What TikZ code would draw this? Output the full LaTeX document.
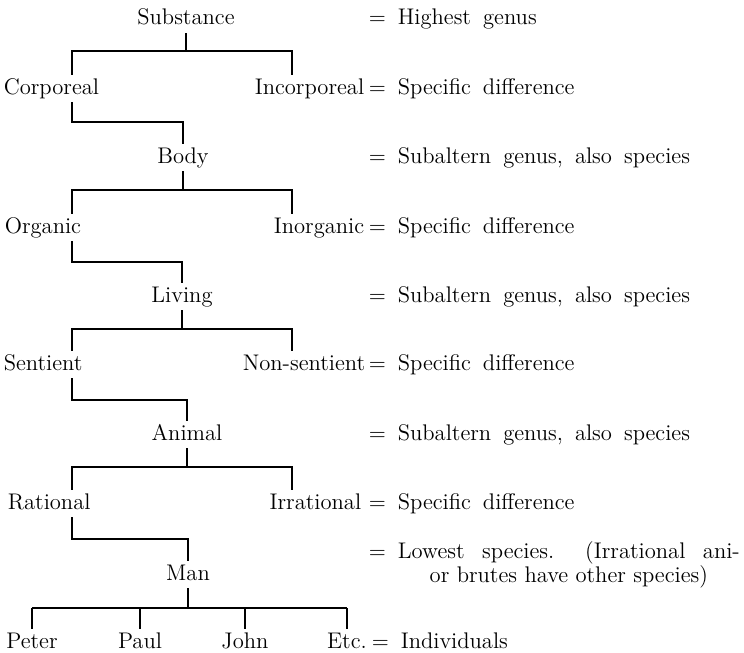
\documentclass[tikz,border=0pt]{standalone}
\usetikzlibrary{positioning}
\begin{document}
\begin{tikzpicture}[x=0.5pt,y=-0.5pt,line width=0.8pt,
  lbl/.style={inner xsep=0pt,inner ysep=1.5pt,text height=7.7pt,text depth=2.2pt,
    font=\fontsize{11.3}{13}\selectfont},
  rlbl/.style={anchor=base west,inner sep=0pt,
    font={\fontsize{11.3}{13}\selectfont\spaceskip=6pt plus 1pt\relax}}]
  \useasboundingbox (0,0) rectangle (744,653);
  \pgfmathsetmacro {\lx}{72}   %left drop column
  \pgfmathsetmacro {\rx}{292}  %right drop column
  \pgfmathsetmacro {\ex}{368}  %column of the equals signs

  %Tree labels
  \node[lbl,anchor=base] (subst) at (186,25) {Substance};
  \node[lbl,anchor=base west] (corp) at (3,94) {Corporeal};
  \node[lbl,anchor=base east] (incorp) at (365,94) {Incorporeal};
  \node[lbl,anchor=base] (body) at (183,163) {Body};
  \node[lbl,anchor=base west] (organic) at (4,233) {Organic};
  \node[lbl,anchor=base east] (inorganic) at (365,233) {Inorganic};
  \node[lbl,anchor=base] (living) at (182,302) {Living};
  \node[lbl,anchor=base west] (sentient) at (3,370) {Sentient};
  \node[lbl,anchor=base east] (nonsentient) at (366,370) {Non-sentient};
  \node[lbl,anchor=base] (animal) at (187,440) {Animal};
  \node[lbl,anchor=base west] (rational) at (7,509) {Rational};
  \node[lbl,anchor=base east] (irrational) at (362,509) {Irrational};
  \node[lbl,anchor=base] (man) at (188,580) {Man};
  \node[lbl,anchor=base] (peter) at (32,648) {Peter};
  \node[lbl,anchor=base] (paul) at (140,648) {Paul};
  \node[lbl,anchor=base] (john) at (245,648) {John};
  \node[lbl,anchor=base] (etc) at (347,648) {Etc.};

  %Right hand column
  \node[rlbl] (highest) at (\ex,25) {$=$ Highest genus};
  \node[rlbl] (diff1) at (\ex,94) {$=$ Specific difference};
  \node[rlbl] (sub1) at (\ex,163) {$=$ Subaltern genus, also species};
  \node[rlbl] (diff2) at (\ex,233) {$=$ Specific difference};
  \node[rlbl] (sub2) at (\ex,302) {$=$ Subaltern genus, also species};
  \node[rlbl] (diff3) at (\ex,370) {$=$ Specific difference};
  \node[rlbl] (sub3) at (\ex,440) {$=$ Subaltern genus, also species};
  \node[rlbl] (diff4) at (\ex,509) {$=$ Specific difference};
  \node[rlbl] (lowest) at (\ex,558) {$=$ \parbox[t]{171pt}{\baselineskip=10.5pt\centering
    \makebox[171pt][s]{Lowest species. (Irrational ani-}\\
    \spaceskip=0pt\relax or brutes have other species)}};
  \node[rlbl] (indiv) at (\ex+3,648) {$=$ Individuals};

  %Bar coordinates
  \coordinate (b1l) at (\lx,51);  \coordinate (b1r) at (\rx,51);
  \coordinate (b2) at (\lx,122);
  \coordinate (b3l) at (\lx,190); \coordinate (b3r) at (\rx,190);
  \coordinate (b4) at (\lx,262);
  \coordinate (b5l) at (\lx,329); \coordinate (b5r) at (\rx,329);
  \coordinate (b6) at (\lx,400);
  \coordinate (b7l) at (\lx,467); \coordinate (b7r) at (\rx,467);
  \coordinate (b8) at (\lx,539);
  \coordinate (mbar) at (0,608);

  %Substance into Corporeal and Incorporeal
  \draw (subst.south) -- (subst.south |- b1l);
  \draw (corp.north -| b1l) -- (b1l) -- (b1r) -- (incorp.north -| b1r);
  \draw (corp.south -| b1l) -- (b2) -| (body.north);

  %Body into Organic and Inorganic
  \draw (body.south) -- (body.south |- b3l);
  \draw (organic.north -| b3l) -- (b3l) -- (b3r) -- (inorganic.north -| b3r);
  \draw (organic.south -| b3l) -- (b4) -| (living.north);

  %Living into Sentient and Non-sentient
  \draw (living.south) -- (living.south |- b5l);
  \draw (sentient.north -| b5l) -- (b5l) -- (b5r) -- (nonsentient.north -| b5r);
  \draw (sentient.south -| b5l) -- (b6) -| (animal.north);

  %Animal into Rational and Irrational
  \draw (animal.south) -- (animal.south |- b7l);
  \draw (rational.north -| b7l) -- (b7l) -- (b7r) -- (irrational.north -| b7r);
  \draw (rational.south -| b7l) -- (b8) -| (man.north);

  %Man into individuals
  \draw (man.south) -- (man.south |- mbar);
  \draw (peter.north |- mbar) -- (etc.north |- mbar);
  \foreach \n in {peter,paul,john,etc}
    \draw (\n.north) -- (\n.north |- mbar);
\end{tikzpicture}
\end{document}
